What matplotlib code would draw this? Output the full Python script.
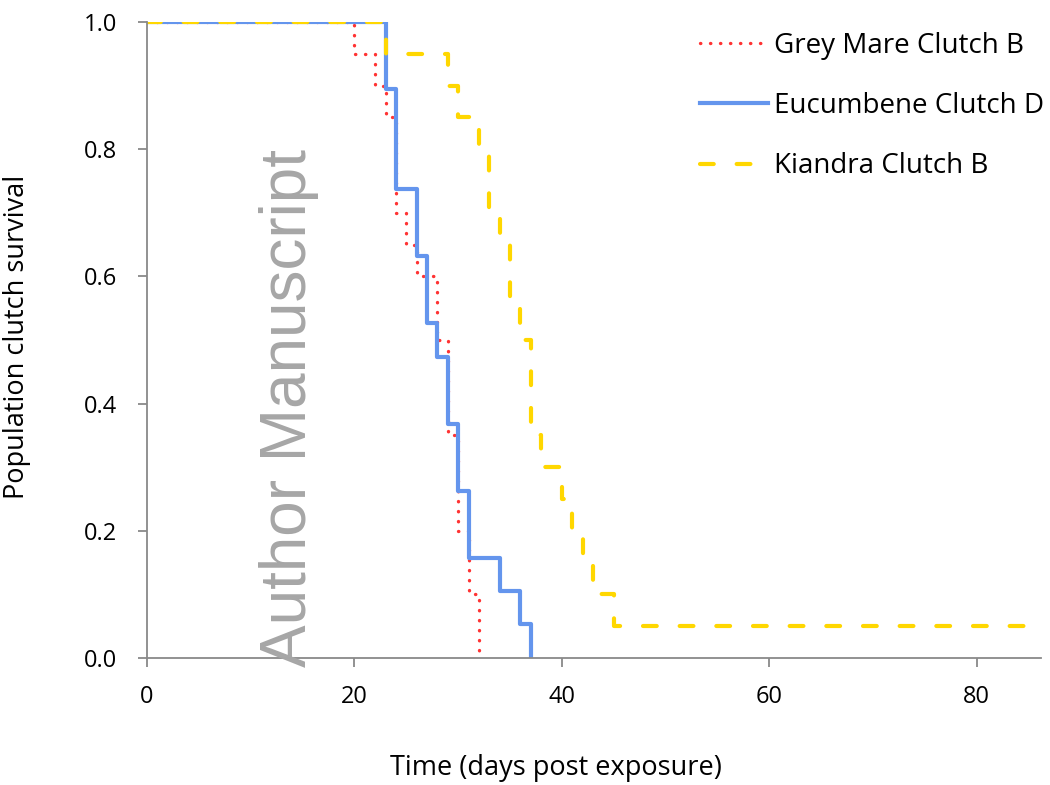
import numpy as np
import matplotlib
matplotlib.use("Agg")
import matplotlib.pyplot as plt

plt.rcParams['font.family'] = ['Open Sans', 'DejaVu Sans']

# survival steps (day of drop, survival after drop)
grey_days = [0, 20, 22, 23, 24, 25, 26, 28, 29, 30, 31, 32]
grey_surv = [1.0, 0.95, 0.9, 0.85, 0.7, 0.65, 0.6, 0.5, 0.35, 0.2, 0.1, 0.0]

euc_days = [0, 23, 24, 26, 27, 28, 29, 30, 31, 34, 36, 37]
euc_surv = [1.0, 0.895, 0.737, 0.632, 0.526, 0.474, 0.368, 0.263, 0.158, 0.105, 0.053, 0.0]

kia_days = [0, 23, 29, 30, 32, 33, 34, 35, 36, 37, 38, 40, 41, 42, 43, 45, 87]
kia_surv = [1.0, 0.95, 0.9, 0.85, 0.8, 0.7, 0.65, 0.55, 0.5, 0.35, 0.3, 0.25, 0.2, 0.15, 0.1, 0.05, 0.05]

labels = ["Grey Mare Clutch B", "Eucumbene Clutch D", "Kiandra Clutch B"]
xticks = [0, 20, 40, 60, 80]
yticks = [0.0, 0.2, 0.4, 0.6, 0.8, 1.0]

fig = plt.figure(figsize=(10.5, 7.85), dpi=100)
ax = fig.add_axes([147 / 1050, 1 - 658 / 785, 894 / 1050, 636 / 785])

ax.step(grey_days, grey_surv, where='post', color='#FF3333', lw=2.4,
        linestyle=(0, (0.1, 2.9)), dash_capstyle='round', label=labels[0])
ax.step(euc_days, euc_surv, where='post', color='#6495ED', lw=3,
        label=labels[1])
ax.step(kia_days, kia_surv, where='post', color='#FFD700', lw=3,
        linestyle=(0, (3.3, 5.5)), dash_capstyle='round', label=labels[2])

ax.set_xlim(0, 86.2)
ax.set_ylim(0, 1.0)
ax.set_xticks(xticks)
ax.set_yticks(yticks)
ax.set_yticklabels(["%.1f" % v for v in yticks])

for s in ['top', 'right']:
    ax.spines[s].set_visible(False)
for s in ['left', 'bottom']:
    ax.spines[s].set_color('#898989')
    ax.spines[s].set_linewidth(1.3)
ax.tick_params(direction='out', length=6.5, width=1.3, color='#898989',
               labelsize=17, labelcolor='black')
ax.tick_params(axis='x', pad=13)
ax.tick_params(axis='y', pad=15)

ax.set_xlabel("Time (days post exposure)", fontsize=19.5)
ax.xaxis.set_label_coords(0.4575, -0.173)
ax.set_ylabel("Population clutch survival", fontsize=19.5)
ax.yaxis.set_label_coords(-0.145, 0.505)
ax.yaxis.label.set_va('center')
ax.xaxis.label.set_va('center')

ax.legend(loc='upper left', bbox_to_anchor=((700 - 147) / 894, (658 - 32) / 636),
          frameon=False, fontsize=20, handlelength=2.45, handletextpad=0.22,
          labelspacing=1.16, borderpad=0, borderaxespad=0)

fig.text(289 / 1050, 1 - 408 / 785, "Author Manuscript", rotation=90,
         fontsize=46, family='Liberation Sans', color='#A6A6A6',
         ha='center', va='center', zorder=10)

fig.savefig("out.png", dpi=100)
